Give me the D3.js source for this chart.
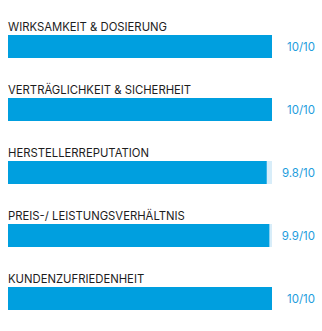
<!DOCTYPE html>
<html lang="de">
<head>
<meta charset="utf-8">
<script src="https://d3js.org/d3.v7.min.js"></script>
<style>
body { margin: 0; background: #fff; }
svg { display: block; }
.label { font-family: Inter, "Noto Sans", sans-serif; font-size: 11.3px; fill: #1d1d1d; }
.value { font-family: Inter, "Noto Sans", sans-serif; font-size: 11.5px; fill: #1e9ddd; }
</style>
</head>
<body>
<script>
// data
var categories = ["WIRKSAMKEIT & DOSIERUNG", "VERTRÄGLICHKEIT & SICHERHEIT", "HERSTELLERREPUTATION", "PREIS-/ LEISTUNGSVERHÄLTNIS", "KUNDENZUFRIEDENHEIT"];
var scores = [10, 10, 9.8, 9.9, 10];
var maxScore = 10;

var width = 322, height = 331;

var svg = d3.select("body").append("svg")
    .attr("width", width)
    .attr("height", height);

var x = d3.scaleLinear().domain([0, maxScore]).range([8, 272]);
var y = d3.scaleBand().domain(categories).range([14, 329]);

var barH = 23;

var row = svg.selectAll(".row")
    .data(categories)
  .enter().append("g")
    .attr("class", "row")
    .attr("transform", function(d) { return "translate(0," + y(d) + ")"; });

row.append("text")
    .attr("class", "label")
    .attr("x", 8)
    .attr("y", 17)
    .text(function(d) { return d; });

// track
row.append("rect")
    .attr("x", x(0))
    .attr("y", 21)
    .attr("width", x(maxScore) - x(0))
    .attr("height", barH)
    .attr("fill", "#d8edf9");

// bar
row.append("rect")
    .attr("x", x(0))
    .attr("y", 21)
    .attr("width", function(d, i) { return x(scores[i]) - x(0); })
    .attr("height", barH)
    .attr("fill", "#009fdf");

row.append("text")
    .attr("class", "value")
    .attr("x", 315)
    .attr("y", 21 + barH / 2 + 4)
    .attr("text-anchor", "end")
    .text(function(d, i) { return scores[i] + "/" + maxScore; });
</script>
</body>
</html>
